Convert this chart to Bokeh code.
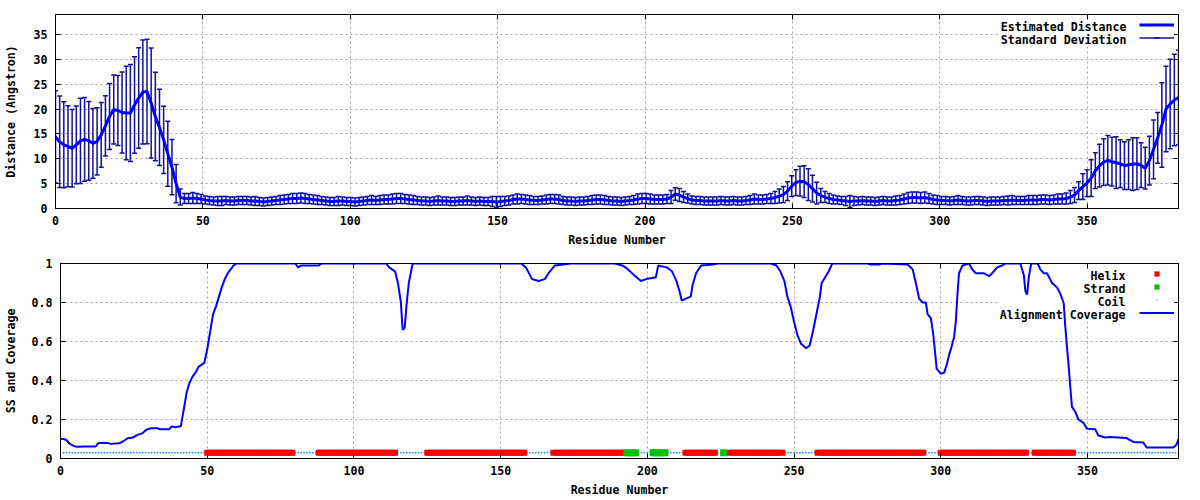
from bokeh.plotting import figure
from bokeh.models import (ColumnDataSource, LinearAxis, FixedTicker, Legend, LegendItem,
                          Range1d, CustomJSTickFormatter, Label, BoxAnnotation)
from bokeh.embed import file_html
from bokeh.resources import INLINE

# ---------------- data: estimated distance (top panel) ----------------
# one value per error bar, bars spread evenly over residues 0..381
dist_mean = [
    14.4, 13.4, 12.8, 12.5, 12.1, 12.8, 13.6, 13.9, 13.6, 13.1, 13.5, 14.8, 16.6, 18.5, 19.9, 19.7,
    19.3, 19.2, 19.2, 20.8, 22.2, 23.4, 23.5, 21.2, 18.5, 16.3, 13.8, 11.0, 8.3, 5.0, 2.3, 2.0,
    2.0, 2.1, 2.0, 1.9,
    1.7, 1.6, 1.5, 1.5, 1.5, 1.6, 1.5, 1.5, 1.6,
    1.6, 1.6, 1.5, 1.5, 1.4, 1.3,
    1.4, 1.5, 1.6, 1.7, 1.8, 1.9,
    2.0, 2.0, 2.1, 2.0, 1.9, 1.8,
    1.7, 1.6, 1.5, 1.4, 1.4, 1.5, 1.5, 1.4,
    1.4, 1.3, 1.4, 1.5, 1.6, 1.7, 1.6, 1.7, 1.8,
    1.8, 1.9, 2.0, 2.0, 1.9, 1.8, 1.7,
    1.6, 1.5, 1.5, 1.4, 1.5, 1.6, 1.5, 1.5, 1.4, 1.4, 1.5, 1.5, 1.6, 1.5, 1.4, 1.5, 1.4, 1.4,
    1.4, 1.3, 1.4, 1.5,
    1.6, 1.8, 1.9, 1.9, 1.8, 1.7,
    1.6, 1.6, 1.7,
    1.8, 1.9, 1.9, 1.8,
    1.6, 1.5, 1.5, 1.4, 1.5, 1.5, 1.6,
    1.7, 1.8, 1.8, 1.7, 1.6,
    1.5, 1.5, 1.4, 1.5, 1.6, 1.7,
    1.9, 2.0, 2.0, 1.9, 1.8, 1.8, 1.8, 1.9,
    2.3, 2.9, 2.7, 2.3, 2.0,
    1.7, 1.6, 1.6, 1.5, 1.5, 1.5, 1.5, 1.6, 1.5, 1.5, 1.6, 1.5, 1.5, 1.6, 1.7,
    1.9, 1.8, 1.8, 1.9, 2.0,
    2.2, 2.5, 2.8, 3.5, 4.5, 5.2, 5.5, 5.4, 4.8, 4.0, 3.1, 2.6, 2.3, 2.0,
    1.8, 1.7, 1.6, 1.5, 1.4, 1.5, 1.5, 1.6, 1.5, 1.5, 1.4, 1.5, 1.6, 1.5, 1.5, 1.6, 1.7,
    1.9, 2.1, 2.2, 2.2, 2.1, 2.2, 2.0,
    1.8, 1.7, 1.6, 1.6, 1.5, 1.6, 1.7, 1.6, 1.5, 1.5, 1.6, 1.6, 1.5, 1.4, 1.5, 1.5, 1.5, 1.6,
    1.6, 1.7, 1.6, 1.6, 1.6, 1.7, 1.7, 1.7, 1.8, 1.8, 1.7, 1.8, 1.9,
    1.9, 2.0, 2.3, 2.7, 3.6, 4.4, 5.1, 6.1, 7.6, 8.6, 9.3, 9.7, 9.4, 9.2, 9.0, 8.6, 8.8, 8.9,
    9.0, 8.7, 8.1, 9.6, 11.9, 14.2, 16.8, 20.0, 21.0, 21.8, 22.3,
]
dist_sd = [
    9.25, 9.2, 8.65, 8.15, 7.8, 7.8, 8.55, 8.4, 7.9, 7.0, 6.75, 6.5, 6.05, 6.65, 6.95, 7.05,
    8.15, 9.4, 9.75, 9.7, 10.1, 10.45, 10.5, 11.05, 8.9, 7.65, 6.75, 6.55, 5.55, 3.85, 1.6, 1.0,
    1.0, 1.1, 1.0, 0.9,
    0.8, 0.8, 0.8, 0.9, 0.9, 0.8, 0.8, 0.8, 0.8,
    0.8, 0.8, 0.8, 0.9, 0.8, 0.8,
    0.8, 0.8, 0.8, 0.9, 0.9, 0.9,
    1.0, 1.0, 1.0, 1.0, 0.9, 0.9,
    0.9, 0.8, 0.8, 0.8, 0.8, 0.9, 0.8, 0.8,
    0.8, 0.8, 0.8, 0.8, 0.8, 0.9, 0.8, 0.9, 0.9,
    0.9, 1.0, 1.0, 1.0, 0.9, 0.9, 0.9,
    0.8, 0.8, 0.8, 0.8, 0.8, 0.9, 0.8, 0.8, 0.8, 0.8, 0.8, 0.8, 0.9, 0.8, 0.8, 0.8, 0.8, 0.8,
    1.0, 1.1, 1.0, 0.9,
    0.9, 0.9, 1.0, 0.9, 0.9, 0.9,
    0.8, 0.8, 0.8,
    0.9, 0.9, 0.9, 0.9,
    0.8, 0.8, 0.8, 0.8, 0.8, 0.8, 0.8,
    0.9, 0.9, 0.9, 0.9, 0.8,
    0.8, 0.8, 0.8, 0.8, 0.8, 0.9,
    1.0, 1.0, 1.0, 1.0, 0.9, 0.9, 0.9, 0.9,
    1.3, 1.25, 1.3, 1.1, 0.9,
    0.8, 0.8, 0.8, 0.8, 0.8, 0.8, 0.8, 0.8, 0.8, 0.8, 0.8, 0.8, 0.8, 0.8, 0.9,
    1.0, 0.9, 0.9, 0.9, 1.0,
    1.2, 1.4, 1.6, 1.9, 2.1, 2.6, 3.0, 3.2, 3.2, 2.7, 2.2, 1.4, 1.1, 1.0,
    0.9, 0.8, 0.8, 0.9, 1.2, 0.9, 0.8, 0.8, 0.8, 0.8, 0.8, 0.8, 0.8, 0.8, 0.8, 0.9, 0.9,
    1.0, 1.1, 1.1, 1.1, 1.1, 1.1, 1.0,
    0.9, 0.9, 0.8, 0.8, 0.8, 0.8, 0.9, 0.8, 0.8, 0.8, 0.8, 0.8, 0.8, 0.8, 0.8, 0.8, 0.8, 0.8,
    0.9, 0.9, 0.8, 0.8, 0.8, 0.9, 0.9, 0.9, 0.9, 0.9, 0.9, 0.9, 1.0,
    1.0, 1.1, 1.3, 1.5, 1.8, 2.6, 2.7, 3.7, 3.6, 4.3, 4.7, 5.0, 4.9, 5.2, 4.8, 4.8, 5.0, 5.3,
    5.2, 4.5, 4.2, 4.9, 5.9, 5.1, 8.5, 8.6, 9.0, 9.2, 9.5,
]
dist_last_residue = 381

# ---------------- data: alignment coverage (bottom panel) ----------------
cov_res = [0, 1, 2, 3, 4, 5, 6, 8, 12, 13, 16, 17, 20, 21, 22, 23, 24, 25, 26, 27, 28, 29, 30,
           31, 33, 34, 37, 38, 39, 41, 42, 43, 44, 45, 46, 47, 48, 49, 50, 51, 52, 53, 54, 55,
           56, 57, 58, 59, 60, 80, 81, 82, 88, 89, 111, 112, 114, 115, 116, 116.6, 117.3, 118,
           118.7, 120, 157, 158.6, 160.7, 163, 165, 166.8, 168.5, 174, 189, 191.4, 193, 195.5,
           197.8, 199.6, 202.9, 203.7, 206.6, 208.4, 209.9, 211.1, 211.7, 213.1, 214.8, 215.4,
           216.6, 218.3, 222.4, 224, 242, 244, 245.3, 246.7, 247.7, 248.8, 250, 251.2, 252.3,
           254.1, 255.3, 256.4, 257.6, 258.8, 259.4, 260.6, 261.8, 263, 275, 276, 279, 280,
           288.7, 290.4, 291.5, 292.6, 293.8, 294.9, 295.5, 296.6, 297.4, 298, 298.6, 300,
           301.1, 302, 302.8, 303.6, 304.5, 305.1, 305.7, 306.2, 307.4, 309.6, 310.7, 311.9,
           314.7, 316.4, 317.5, 319.2, 320.9, 322.1, 327.1, 328.3, 328.8, 329.4, 330, 330.8,
           333, 333.9, 335.1, 336.2, 337.9, 339.6, 340.7, 341.9, 342.4, 343, 343.6, 344.1,
           344.7, 345.8, 346.9, 348.6, 349.8, 352.6, 353.7, 356, 357.7, 363.3, 365.6, 369,
           370.1, 379.2, 380.3, 381]
cov_val = [0.10, 0.10, 0.095, 0.077, 0.068, 0.062, 0.06, 0.062, 0.062, 0.08, 0.08, 0.075, 0.078,
           0.085, 0.095, 0.105, 0.105, 0.11, 0.12, 0.125, 0.13, 0.145, 0.152, 0.155, 0.155,
           0.15, 0.15, 0.165, 0.16, 0.165, 0.25, 0.34, 0.39, 0.42, 0.44, 0.47, 0.48, 0.49, 0.56,
           0.65, 0.74, 0.78, 0.83, 0.88, 0.92, 0.95, 0.97, 0.99, 1.0, 1.0, 0.98, 0.99, 0.99,
           1.0, 1.0, 0.98, 0.96, 0.9, 0.8, 0.66, 0.67, 0.8, 0.9, 1.0, 1.0, 0.98, 0.92, 0.91,
           0.92, 0.96, 0.99, 1.0, 1.0, 0.99, 0.975, 0.94, 0.91, 0.92, 0.93, 0.99, 0.98, 0.96,
           0.91, 0.85, 0.81, 0.82, 0.83, 0.89, 0.95, 0.99, 0.995, 1.0, 1.0, 0.99, 0.96, 0.91,
           0.83, 0.78, 0.7, 0.63, 0.59, 0.565, 0.58, 0.65, 0.74, 0.83, 0.9, 0.93, 0.96, 1.0,
           1.0, 0.995, 0.995, 1.0, 0.995, 0.97, 0.9, 0.82, 0.8, 0.8, 0.74, 0.72, 0.64, 0.55,
           0.46, 0.435, 0.44, 0.48, 0.53, 0.57, 0.62, 0.7, 0.85, 0.95, 0.99, 1.0, 0.97, 0.95,
           0.95, 0.935, 0.95, 0.98, 0.99, 1.0, 1.0, 0.94, 0.86, 0.84, 0.93, 1.0, 1.0, 0.97,
           0.95, 0.95, 0.9, 0.877, 0.846, 0.795, 0.68, 0.57, 0.47, 0.37, 0.265, 0.24, 0.2,
           0.183, 0.152, 0.15, 0.118, 0.108, 0.11, 0.105, 0.085, 0.082, 0.056, 0.056, 0.07, 0.1]

# ---------------- data: secondary structure (residue ranges, inclusive) ----------------
helix_ranges = [(50, 79), (88, 114), (125, 158), (168, 192), (213, 223), (228, 246),
                (258, 294), (300, 329), (332, 345)]
strand_ranges = [(193, 196), (202, 206), (226, 226)]
n_residues = 381
ss_level = 0.03

x_tick_values = [0, 50, 100, 150, 200, 250, 300, 350]
dist_tick_values = [0, 5, 10, 15, 20, 25, 30, 35]
cov_tick_values = [0, 0.2, 0.4, 0.6, 0.8, 1]

# ---------------- derived ----------------
n_bars = len(dist_mean)
dist_res = [i * dist_last_residue / (n_bars - 1) for i in range(n_bars)]
dist_lo = [m - s for m, s in zip(dist_mean, dist_sd)]
dist_hi = [m + s for m, s in zip(dist_mean, dist_sd)]

helix_res = [r for a, b in helix_ranges for r in range(a, b + 1)]
strand_res = [r for a, b in strand_ranges for r in range(a, b + 1)]
ss_taken = set(helix_res) | set(strand_res)
coil_res = [r for r in range(1, n_residues + 1) if r not in ss_taken]

# ---------------- styling helpers ----------------
FONT = "DejaVu Sans Mono"
FSIZE = "11.6px"
GRID = "#a0a0a0"
W = 1200


def text_style(ax):
    ax.major_label_text_font = FONT
    ax.major_label_text_font_size = FSIZE
    ax.major_label_text_font_style = "bold"
    ax.major_label_text_color = "black"
    ax.axis_label_text_font = FONT
    ax.axis_label_text_font_size = FSIZE
    ax.axis_label_text_font_style = "bold"
    ax.axis_label_text_color = "black"
    ax.major_tick_in = 5
    ax.major_tick_out = 0
    ax.minor_tick_line_color = None
    ax.major_tick_line_color = "black"
    ax.axis_line_color = "black"


def build(height, ymax, yticks, ylabel, bl, bt, bb, ylab_standoff, yfmt=None):
    p = figure(width=W, height=height, x_range=Range1d(0, 381), y_range=Range1d(0, ymax),
               output_backend="svg", toolbar_location=None,
               min_border_left=bl, min_border_right=22, min_border_top=bt, min_border_bottom=bb)
    p.outline_line_color = "black"
    p.outline_line_width = 1
    p.background_fill_color = "white"
    p.border_fill_color = "white"
    xt = FixedTicker(ticks=x_tick_values)
    yt = FixedTicker(ticks=yticks)
    p.xaxis.ticker = xt
    p.yaxis.ticker = yt
    p.xgrid.ticker = xt
    p.ygrid.ticker = yt
    for g in (p.xgrid, p.ygrid):
        g.grid_line_color = GRID
        g.grid_line_dash = "2 3"
        g.grid_line_width = 1
    for ax in list(p.xaxis) + list(p.yaxis):
        text_style(ax)
    p.xaxis.axis_label = "Residue Number"
    p.xaxis.major_label_standoff = 7
    p.xaxis.axis_label_standoff = 5
    p.yaxis.axis_label = ylabel
    p.yaxis.major_label_standoff = 8
    p.yaxis.axis_label_standoff = ylab_standoff
    if yfmt is not None:
        p.yaxis.formatter = yfmt
    # mirrored ticks on top and right (labels not painted)
    top = LinearAxis(ticker=xt)
    right = LinearAxis(ticker=yt)
    for ax in (top, right):
        text_style(ax)
        ax.major_label_text_font_size = "6px"
        ax.major_label_text_color = None
        ax.major_label_standoff = 0
    p.add_layout(top, "above")
    p.add_layout(right, "right")
    return p


def key(p, entries, text_right, first_row_y, row_step, box):
    """gnuplot-style key: right-aligned text, sample to its right, opaque box under the data."""
    left, right, top, bottom = box
    p.add_layout(BoxAnnotation(left=left, right=right, top=top, bottom=bottom,
                               left_units="screen", right_units="screen",
                               top_units="screen", bottom_units="screen",
                               fill_color="white", fill_alpha=1, line_color=None,
                               level="underlay"))
    items = [LegendItem(label=" ", renderers=rs) for _, rs in entries]
    leg = Legend(items=items, location="top_right", margin=4, padding=2, spacing=0,
                 glyph_width=35, glyph_height=13, label_height=13, label_width=0,
                 label_standoff=0, label_text_font=FONT, label_text_font_size=FSIZE,
                 label_text_color=None, border_line_color=None,
                 background_fill_color="white", background_fill_alpha=1)
    leg.level = "underlay"
    p.add_layout(leg)
    for k, (txt, _) in enumerate(entries):
        p.add_layout(Label(x=text_right, y=first_row_y - k * row_step,
                           x_units="screen", y_units="screen", text=txt,
                           text_align="right", text_baseline="middle", text_font=FONT,
                           text_font_size=FSIZE, text_font_style="bold", text_color="black"))


# ---------------- top panel ----------------
p1 = build(250, 39, dist_tick_values, "Distance (Angstron)", 52, 14, 42, 13)
src = ColumnDataSource(dict(x=dist_res, m=dist_mean, lo=dist_lo, hi=dist_hi))
bar_color = "#10109a"
r_bar = p1.segment(x0="x", y0="lo", x1="x", y1="hi", source=src, line_color=bar_color, line_width=1.5)
r_cap_hi = p1.scatter(x="x", y="hi", source=src, marker="dash", size=5, line_color=bar_color, line_width=1.5)
p1.scatter(x="x", y="lo", source=src, marker="dash", size=5, line_color=bar_color, line_width=1.5)
r_mean = p1.line(x="x", y="m", source=src, line_color="#0000ff", line_width=3)
key(p1, [("Estimated Distance", [r_mean]), ("Standard Deviation", [r_bar, r_cap_hi])],
    text_right=1071, first_row_y=181.5, row_step=13, box=(943, 1118, 189, 162))

# ---------------- bottom panel ----------------
fmt = CustomJSTickFormatter(code="return tick.toString();")
p2 = build(250, 1, cov_tick_values, "SS and Coverage", 58, 13, 42, 11, yfmt=fmt)
r_coil = p2.scatter(coil_res, [ss_level] * len(coil_res), marker="dot", size=7,
                    line_color="#1e90ff", fill_color="#1e90ff")
r_helix = p2.scatter(helix_res, [ss_level] * len(helix_res), marker="square", size=6,
                     line_color=None, fill_color="#ff0000")
r_strand = p2.scatter(strand_res, [ss_level] * len(strand_res), marker="square", size=7,
                      line_color=None, fill_color="#00c000")
r_cov = p2.line(cov_res, cov_val, line_color="#0000ff", line_width=2)
key(p2, [("Helix", [r_helix]), ("Strand", [r_strand]), ("Coil", [r_coil]),
         ("Alignment Coverage", [r_cov])],
    text_right=1065, first_row_y=182.5, row_step=13, box=(937, 1112, 190, 137))

# two independent roots so that the two frames are not forced into alignment
open("out.html", "w").write(file_html([p1, p2], INLINE))
